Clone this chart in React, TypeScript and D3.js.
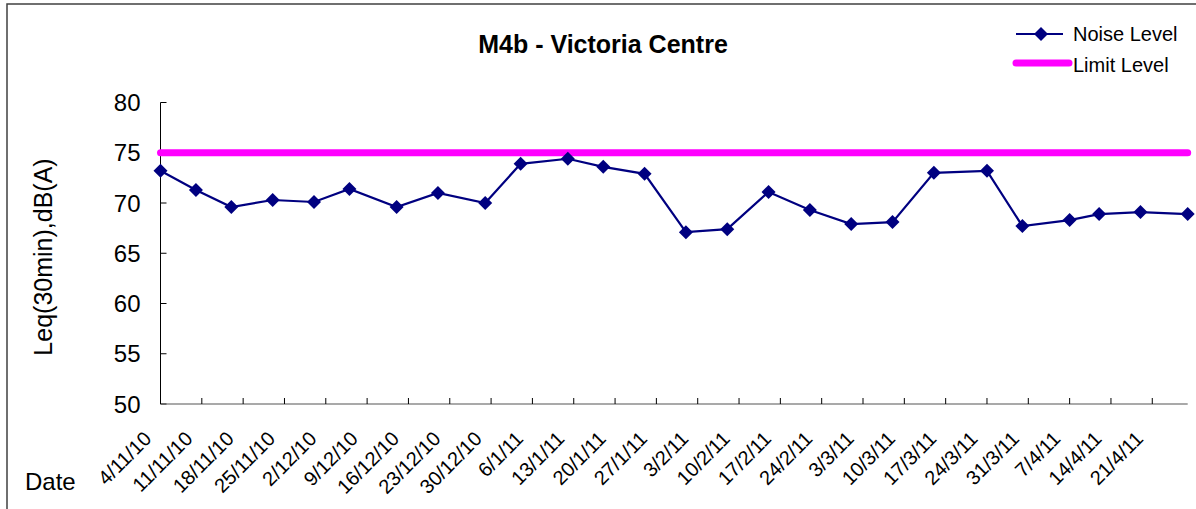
import React from "react";
import * as d3 from "d3";

// Noise monitoring data (dates as d/m/y)
const sampleDates = [
  "4/11/10", "10/11/10", "16/11/10", "23/11/10", "30/11/10", "6/12/10",
  "14/12/10", "21/12/10", "29/12/10", "4/1/11", "12/1/11", "18/1/11",
  "25/1/11", "1/2/11", "8/2/11", "15/2/11", "22/2/11", "1/3/11",
  "8/3/11", "15/3/11", "24/3/11", "30/3/11", "7/4/11", "12/4/11",
  "19/4/11", "27/4/11",
];
const noiseLevels = [
  73.2, 71.3, 69.6, 70.3, 70.1, 71.4, 69.6, 71.0, 70.0, 73.9, 74.4, 73.6,
  72.9, 67.1, 67.4, 71.1, 69.3, 67.9, 68.1, 73.0, 73.2, 67.7, 68.3, 68.9,
  69.1, 68.9,
];
const limitLevel = 75;
const yTicks = [50, 55, 60, 65, 70, 75, 80];
const xTickLabels = [
  "4/11/10", "11/11/10", "18/11/10", "25/11/10", "2/12/10", "9/12/10",
  "16/12/10", "23/12/10", "30/12/10", "6/1/11", "13/1/11", "20/1/11",
  "27/1/11", "3/2/11", "10/2/11", "17/2/11", "24/2/11", "3/3/11",
  "10/3/11", "17/3/11", "24/3/11", "31/3/11", "7/4/11", "14/4/11",
  "21/4/11",
];
const seriesNames = ["Noise Level", "Limit Level"];

const parseDate = (s: string) => {
  const [d, m, y] = s.split("/").map(Number);
  return new Date(Date.UTC(2000 + y, m - 1, d));
};

const W = 1196;
const H = 509;
const NAVY = "#000080";
const MAGENTA = "#FF00FF";
const FONT = "Arial, 'Liberation Sans', sans-serif";

const diamond = (cx: number, cy: number, r: number) =>
  `M${cx},${cy - r}L${cx + r},${cy}L${cx},${cy + r}L${cx - r},${cy}Z`;

const App = () => {
  const points = sampleDates.map((d, i) => ({ date: parseDate(d), value: noiseLevels[i] }));
  const first = points[0].date;
  const last = points[points.length - 1].date;

  const x = d3.scaleUtc().domain([first, last]).range([160.5, 1187.7]);
  const y = d3.scaleLinear().domain([50, 80]).range([404, 102.5]);

  const tickDates = xTickLabels.map(parseDate);

  const line = d3
    .line<{ date: Date; value: number }>()
    .x((d) => x(d.date))
    .y((d) => y(d.value));

  const limitPts = [
    { date: first, value: limitLevel },
    { date: last, value: limitLevel },
  ];

  const axisY = y(50);
  const axisX = x(first);

  return (
    <div style={{ position: "fixed", left: 0, top: 0, background: "#fff" }}>
      <svg width={W} height={H} style={{ display: "block", fontFamily: FONT }}>
        <rect x={0} y={0} width={W} height={H} fill="#fff" />
        {/* chart border */}
        <rect x={7} y={4} width={W + 20} height={H + 20} fill="none" stroke="#404040" strokeWidth={1.5} />

        <text x={603} y={53} textAnchor="middle" fontSize={25} fontWeight="bold" fill="#000">
          M4b - Victoria Centre
        </text>

        {/* y axis */}
        <line x1={axisX} x2={axisX} y1={y(80)} y2={axisY} stroke="#000" strokeWidth={1} />
        {yTicks.map((t) => (
          <g key={t}>
            <line x1={axisX} x2={axisX + 6} y1={y(t)} y2={y(t)} stroke="#000" />
            <text x={axisX - 20} y={y(t)} dy="0.36em" textAnchor="end" fontSize={24} fill="#000">
              {t}
            </text>
          </g>
        ))}
        <text transform={`translate(52,257) rotate(-90)`} textAnchor="middle" fontSize={25} fill="#000">
          Leq(30min),dB(A)
        </text>

        {/* x axis */}
        <line x1={axisX} x2={x(last)} y1={axisY} y2={axisY} stroke="#555" strokeWidth={1.2} />
        {tickDates.map((d, i) => (
          <g key={i}>
            <line x1={x(d)} x2={x(d)} y1={axisY} y2={axisY - 6} stroke="#000" />
            <text
              transform={`translate(${x(d) - 8},${axisY + 36}) rotate(-45)`}
              textAnchor="end"
              fontSize={20}
              fill="#000"
            >
              {xTickLabels[i]}
            </text>
          </g>
        ))}
        <text x={25} y={490} fontSize={24} fill="#000">
          Date
        </text>

        {/* limit line */}
        <path d={line(limitPts) ?? ""} fill="none" stroke={MAGENTA} strokeWidth={7} strokeLinecap="round" />

        {/* noise series */}
        <path d={line(points) ?? ""} fill="none" stroke={NAVY} strokeWidth={2.2} />
        {points.map((p, i) => (
          <path key={i} d={diamond(x(p.date), y(p.value), 7)} fill={NAVY} />
        ))}

        {/* legend */}
        <line x1={1016} x2={1063} y1={34} y2={34} stroke={NAVY} strokeWidth={2.2} />
        <path d={diamond(1041, 34, 7)} fill={NAVY} />
        <text x={1073} y={41} fontSize={20} fill="#000">
          {seriesNames[0]}
        </text>
        <line x1={1016} x2={1069} y1={63} y2={63} stroke={MAGENTA} strokeWidth={7} strokeLinecap="round" />
        <text x={1073} y={72} fontSize={20} fill="#000">
          {seriesNames[1]}
        </text>
      </svg>
    </div>
  );
};

export default App;
